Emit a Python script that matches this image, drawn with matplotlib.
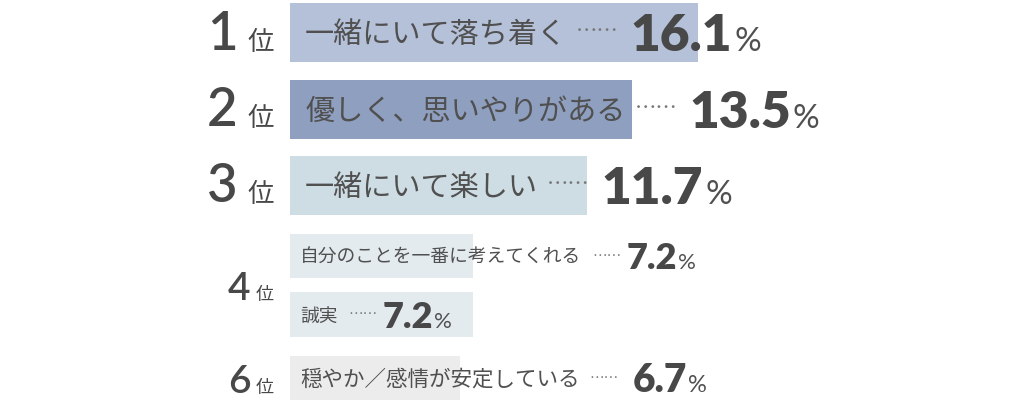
import matplotlib
matplotlib.use('Agg')
import matplotlib.pyplot as plt

# data
categories = ['一緒にいて落ち着く', '優しく、思いやりがある', '一緒にいて楽しい',
              '自分のことを一番に考えてくれる', '誠実', '穏やか／感情が安定している']
values = [16.1, 13.5, 11.7, 7.2, 7.2, 6.7]
ranks = [1, 2, 3, 4, 4, 6]

# layout (pixel units, figure is 1024 x 403)
PX = 25.35   # pixels per percentage point
X0 = 290     # pixel column where bars start
row_y = [32.5, 109.5, 185.5, 256, 314.5, 378]
row_h = [59, 59, 59, 44, 45, 44]
bar_colors = ['#b5c1d9', '#8f9fc0', '#cedce4', '#e3ebef', '#e3ebef', '#ececec']
label_pad = [15, 15, 15, 10, 10, 10]
label_fs = [21, 21, 21, 13.5, 13.5, 15.5]
dots_fs = [15.5, 15.5, 15.5, 10.5, 10.5, 10.5]
value_fs = [37, 37, 37, 26, 26, 28]
pct_fs = [24, 24, 24, 16, 16, 17]
gaps = [(9, 12, 2)] * 3 + [(11, 5, 1), (11, 5, 1), (10, 14, 1)]

JP = ['Noto Sans CJK JP', 'DejaVu Sans']
NUM = ['Lato', 'DejaVu Sans']
TEXT = '#484848'
LABEL = '#505050'


def em(fs):
    return fs * 100 / 72


def px(x):
    return (x - X0) / PX


fig = plt.figure(figsize=(10.24, 4.03), dpi=100)
ax = fig.add_axes([0, 0, 1, 1])
ax.set_xlim(px(0), px(1024))
ax.set_ylim(403, 0)
ax.axis('off')

ax.barh(row_y, values, height=row_h, left=0, color=bar_colors)

renderer = fig.canvas.get_renderer()


def right_edge(t):
    return t.get_window_extent(renderer=renderer).x1


for i, (cat, val) in enumerate(zip(categories, values)):
    y = row_y[i]
    g1, g2, g3 = gaps[i]
    lab = ax.text(px(X0 + label_pad[i]), y + 0.37 * em(label_fs[i]), cat,
                  fontsize=label_fs[i], family=JP, color=LABEL, va='baseline')
    x = right_edge(lab) + g1
    dots = ax.text(px(x), y + 3 + 0.12 * em(dots_fs[i]), '……',
                   fontsize=dots_fs[i], family=JP, color='#777777', va='baseline')
    x = right_edge(dots) + g2
    base = y + 0.36 * em(value_fs[i])
    num = ax.text(px(x), base, f'{val:.1f}', fontsize=value_fs[i], family=NUM,
                  fontweight='heavy', color=TEXT, va='baseline')
    x = right_edge(num) + g3
    ax.text(px(x), base, '%', fontsize=pct_fs[i], family=NUM,
            color=LABEL, va='baseline')

# rank labels, shared rank centred across its rows
for r in sorted(set(ranks)):
    idx = [i for i, k in enumerate(ranks) if k == r]
    yc = sum(row_y[i] for i in idx) / len(idx)
    big = idx[0] < 3
    fs, fs2 = (38, 19) if big else (28, 13)
    xc, xl = (222, 247) if big else (239, 256)
    base = yc + 0.36 * em(fs) + (-2 if big else 1)
    ax.text(px(xc), base, str(r), fontsize=fs, family=NUM, fontweight='semibold',
            color=TEXT, ha='center', va='baseline')
    ax.text(px(xl), base, '位', fontsize=fs2, family=JP, color=TEXT, va='baseline')

fig.savefig('out.png', dpi=100, facecolor='white')
